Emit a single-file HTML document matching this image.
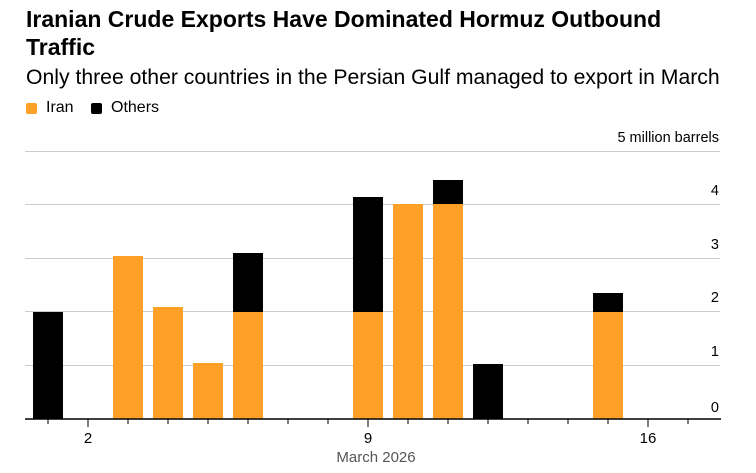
<!DOCTYPE html>
<html><head><meta charset="utf-8"><style>
body{margin:0;background:#fff;width:756px;height:473px;overflow:hidden;font-family:"Liberation Sans",sans-serif;}
.t{position:absolute;left:26px;top:5px;font-size:23px;font-weight:bold;line-height:28px;color:#000;letter-spacing:0px;width:680px}
.s{position:absolute;left:26px;top:66px;font-size:21.2px;color:#000;white-space:nowrap;letter-spacing:0px}
.l{position:absolute;top:99px;font-size:16px;color:#000}
.sw{position:absolute;top:103px;width:11px;height:11px;border-radius:2px}
</style></head><body>
<div class="t">Iranian Crude Exports Have Dominated Hormuz Outbound Traffic</div>
<div class="s">Only three other countries in the Persian Gulf managed to export in March</div>
<div class="sw" style="left:26px;background:#ffa126"></div><div class="l" style="left:46px">Iran</div>
<div class="sw" style="left:91px;background:#000"></div><div class="l" style="left:111px">Others</div>
<svg width="756" height="473" style="position:absolute;left:0;top:0" font-family="Liberation Sans, sans-serif">
<g stroke="#ccc" stroke-width="1">
<line x1="25" x2="720" y1="151.5" y2="151.5"/><line x1="25" x2="720" y1="204.5" y2="204.5"/>
<line x1="25" x2="720" y1="258.5" y2="258.5"/><line x1="25" x2="720" y1="311.5" y2="311.5"/>
<line x1="25" x2="720" y1="365.5" y2="365.5"/>
</g>
<g font-size="14.5" fill="#000" text-anchor="end">
<text x="719" y="142">5 million barrels</text>
<text x="719" y="195">4</text><text x="719" y="249">3</text><text x="719" y="302">2</text>
<text x="719" y="356">1</text><text x="719" y="412">0</text>
</g>
<g fill="#ffa126">
<rect x="113" y="256" width="30" height="163"/>
<rect x="153" y="307" width="30" height="112"/>
<rect x="193" y="363" width="30" height="56"/>
<rect x="233" y="312" width="30" height="107"/>
<rect x="353" y="312" width="30" height="107"/>
<rect x="393" y="204" width="30" height="215"/>
<rect x="433" y="204" width="30" height="215"/>
<rect x="593" y="312" width="30" height="107"/>
</g>
<g fill="#000">
<rect x="33" y="312" width="30" height="107"/>
<rect x="233" y="253" width="30" height="59"/>
<rect x="353" y="197" width="30" height="115"/>
<rect x="433" y="180" width="30" height="24"/>
<rect x="473" y="364" width="30" height="55"/>
<rect x="593" y="293" width="30" height="19"/>
</g>
<line x1="25" x2="721" y1="419" y2="419" stroke="#000" stroke-width="1.5"/>
<g stroke="#000" stroke-width="1">
<line x1="48" x2="48" y1="419" y2="424"/><line x1="88" x2="88" y1="419" y2="427"/>
<line x1="128" x2="128" y1="419" y2="424"/><line x1="168" x2="168" y1="419" y2="424"/>
<line x1="208" x2="208" y1="419" y2="424"/><line x1="248" x2="248" y1="419" y2="424"/>
<line x1="288" x2="288" y1="419" y2="424"/><line x1="328" x2="328" y1="419" y2="424"/>
<line x1="368" x2="368" y1="419" y2="427"/><line x1="408" x2="408" y1="419" y2="424"/>
<line x1="448" x2="448" y1="419" y2="424"/><line x1="488" x2="488" y1="419" y2="424"/>
<line x1="528" x2="528" y1="419" y2="424"/><line x1="568" x2="568" y1="419" y2="424"/>
<line x1="608" x2="608" y1="419" y2="424"/><line x1="648" x2="648" y1="419" y2="427"/>
<line x1="688" x2="688" y1="419" y2="424"/>
</g>
<g font-size="15" fill="#000" text-anchor="middle">
<text x="88" y="443">2</text><text x="368" y="443">9</text><text x="648" y="443">16</text>
</g>
<text x="376" y="462" font-size="15" fill="#555" text-anchor="middle">March 2026</text>
</svg>
</body></html>
